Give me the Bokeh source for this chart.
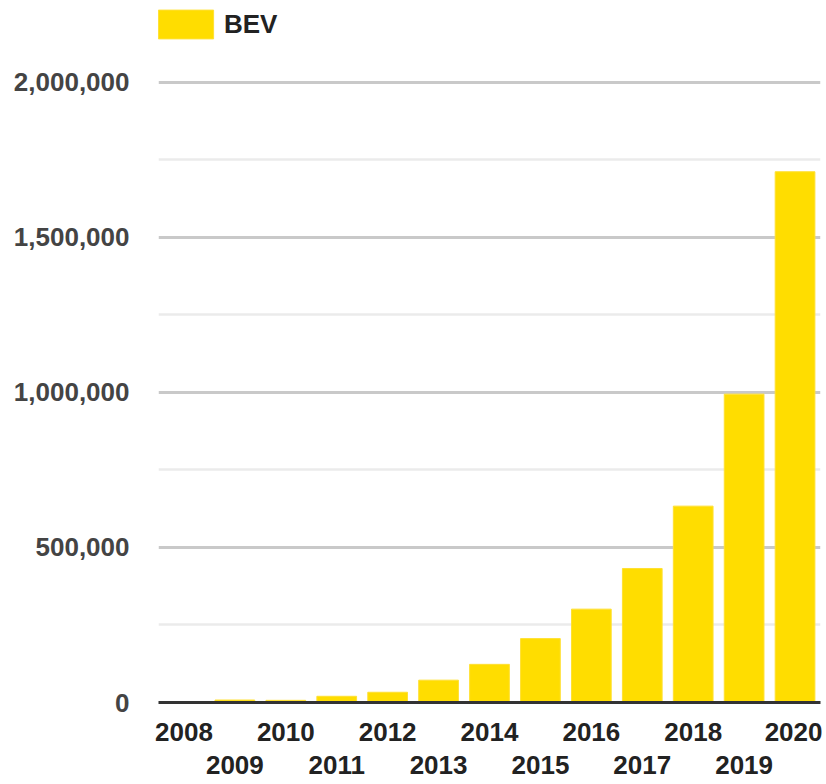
from bokeh.plotting import figure
from bokeh.models import (ColumnDataSource, FixedTicker, NumeralTickFormatter,
                          LinearAxis, Legend, LegendItem, Range1d)
from bokeh.embed import file_html
from bokeh.resources import INLINE

# ---- data ----
years = [2008, 2009, 2010, 2011, 2012, 2013, 2014,
         2015, 2016, 2017, 2018, 2019, 2020]
bev = [1000, 8000, 7000, 20000, 33000, 72000, 123000,
       206000, 301000, 432000, 633000, 994000, 1711000]
series_name = "BEV"
y_ticks = [0, 500000, 1000000, 1500000, 2000000]
y_minor_ticks = [250000, 750000, 1250000, 1750000]
x_ticks_row1 = years[0::2]   # 2008, 2010, ... 2020
x_ticks_row2 = years[1::2]   # 2009, 2011, ... 2019

FONT = "Liberation Sans"
YELLOW = "#FFDD00"

src = ColumnDataSource(data=dict(year=years, bev=bev))

# the frame reaches the top of the canvas so that the legend can sit inside it
p = figure(x_range=Range1d(min(years) - 0.5, max(years) + 0.5),
           y_range=Range1d(0, 2263000),
           width=822, height=784,
           output_backend="svg", toolbar_location=None,
           x_axis_location=None,
           min_border_left=158, min_border_right=2,
           min_border_top=0, min_border_bottom=82)

p.outline_line_color = None
p.background_fill_color = "white"
p.border_fill_color = "white"

r = p.vbar(x="year", top="bev", width=0.78, source=src,
           fill_color=YELLOW, line_color="#FFE033", line_width=1)

# y axis
yax = p.yaxis[0]
yax.ticker = FixedTicker(ticks=y_ticks, minor_ticks=y_minor_ticks)
yax.formatter = NumeralTickFormatter(format="0,0")
yax.axis_line_color = None
yax.major_tick_line_color = None
yax.minor_tick_line_color = None
yax.major_label_standoff = 23
yax.major_label_text_font = FONT
yax.major_label_text_font_style = "bold"
yax.major_label_text_font_size = "26px"
yax.major_label_text_color = "#444444"

# grid
p.xgrid.grid_line_color = None
p.ygrid.grid_line_color = "#c9c9c9"
p.ygrid.grid_line_width = 3
p.ygrid.minor_grid_line_color = "#ebebeb"
p.ygrid.minor_grid_line_width = 2.5

# staggered x axis labels: two stacked axes
ax1 = LinearAxis(ticker=FixedTicker(ticks=x_ticks_row1, minor_ticks=[]))
ax2 = LinearAxis(ticker=FixedTicker(ticks=x_ticks_row2, minor_ticks=[]))
for ax in (ax1, ax2):
    ax.formatter = NumeralTickFormatter(format="0")
    ax.major_tick_line_color = None
    ax.minor_tick_line_color = None
    ax.major_label_text_font = FONT
    ax.major_label_text_font_style = "bold"
    ax.major_label_text_font_size = "26px"
    ax.major_label_text_color = "#222222"
ax1.axis_line_color = "#333333"
ax1.axis_line_width = 3
ax1.major_label_standoff = 14
ax2.axis_line_color = None
ax2.major_label_standoff = 6
p.add_layout(ax1, "below")
p.add_layout(ax2, "below")

legend = Legend(items=[LegendItem(label=series_name, renderers=[r])],
                location=(-7, 660), orientation="horizontal",
                glyph_width=69, glyph_height=36, padding=0, margin=0,
                spacing=0, label_standoff=4,
                label_text_font=FONT, label_text_font_style="bold",
                label_text_font_size="26px", label_text_color="#222222",
                label_height=36,
                background_fill_alpha=0, border_line_alpha=0)
p.add_layout(legend)

open("out.html", "w").write(file_html(p, INLINE))
